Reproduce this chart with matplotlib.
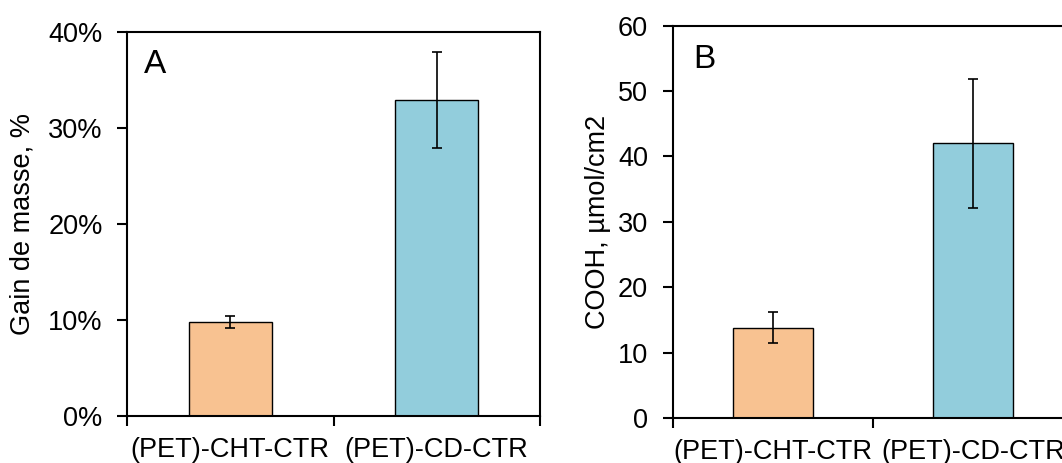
import matplotlib.pyplot as plt
import numpy as np
from matplotlib.ticker import FuncFormatter

plt.rcParams['font.family'] = ['Liberation Sans', 'DejaVu Sans']

# data
categories = ['(PET)-CHT-CTR', '(PET)-CD-CTR']
bar_colors = ['#F8C291', '#92CDDC']

masse = [9.8, 32.9]        # Gain de masse, %
masse_err = [0.65, 5.0]

cooh = [13.8, 42.0]        # COOH, umol/cm2
cooh_err = [2.35, 9.9]

W, H = 1062, 463
fig = plt.figure(figsize=(W / 100, H / 100), dpi=100)

axA = fig.add_axes([127 / W, (H - 416) / H, 413 / W, 384 / H])
axB = fig.add_axes([673 / W, (H - 418) / H, 400 / W, 392.3 / H])

FS = 19.5


def style_panel(ax, vals, errs, ymax, step, ylabel, letter, lx, ypad):
    x = np.arange(len(vals))
    ax.bar(x, vals, width=0.4, color=bar_colors, edgecolor='black', linewidth=1.0, zorder=2)
    ax.errorbar(x, vals, yerr=errs, fmt='none', ecolor='black', elinewidth=1.2,
                capsize=3.6, capthick=1.2, zorder=3)
    ax.set_xlim(-0.5, len(vals) - 0.5)
    ax.set_ylim(0, ymax)
    ax.set_yticks(np.arange(0, ymax + step / 2, step))
    # x ticks at category boundaries (Excel style), labels at centers
    ax.set_xticks([-0.5, 0.5, 1.5])
    ax.set_xticklabels([])
    ax.set_xticks(x, minor=True)
    ax.set_xticklabels(categories, minor=True, fontsize=FS)
    ax.tick_params(axis='x', which='minor', length=0, pad=15)
    ax.tick_params(axis='x', which='major', direction='out', length=7.5, width=1.5)
    ax.tick_params(axis='y', direction='out', length=7.5, width=1.5, labelsize=FS, pad=ypad)
    for s in ax.spines.values():
        s.set_linewidth(1.5)
    ax.set_ylabel(ylabel, fontsize=FS)
    ax.text(lx, 0.915, letter, transform=ax.transAxes, fontsize=24, va='center', ha='left')


style_panel(axA, masse, masse_err, 40, 10, 'Gain de masse, %', 'A', 0.041, 10)
axA.yaxis.set_major_formatter(FuncFormatter(lambda v, p: '%d%%' % v))
axA.yaxis.set_label_coords((36 - 127) / 413, 0.5)

style_panel(axB, cooh, cooh_err, 60, 10, 'COOH, µmol/cm2', 'B', 0.05, 10.5)
axB.yaxis.set_label_coords((611 - 673) / 400, 0.5)

fig.savefig('out.png', dpi=100)
